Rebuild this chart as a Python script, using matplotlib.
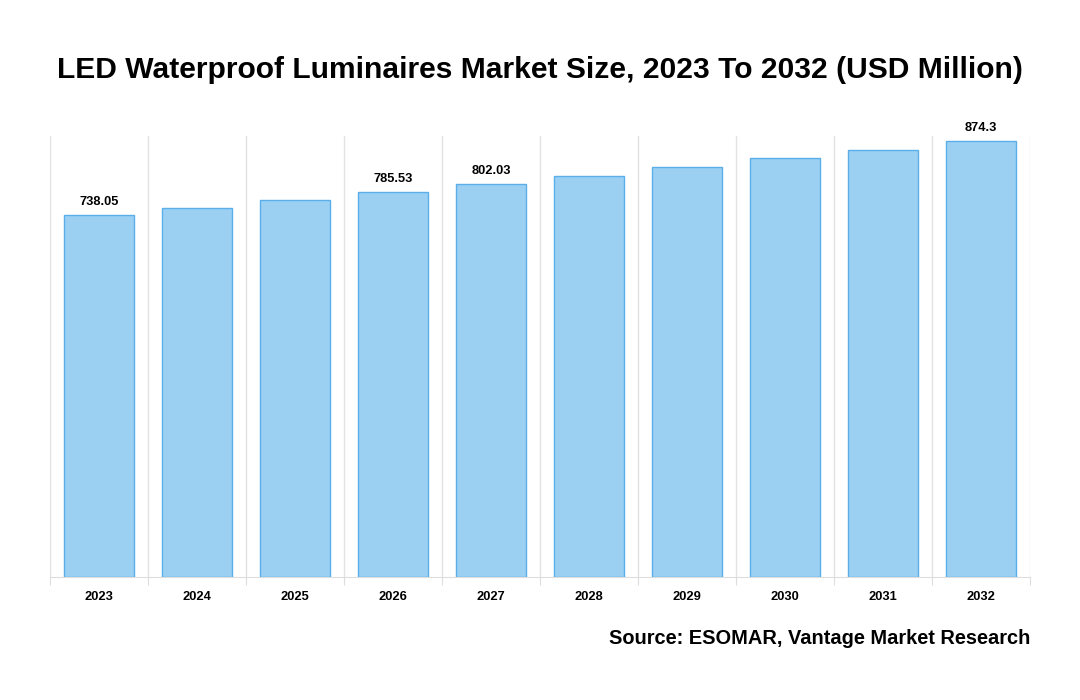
import matplotlib.pyplot as plt

plt.rcParams['font.family'] = ['Liberation Sans', 'DejaVu Sans']

# data
years = ["2023", "2024", "2025", "2026", "2027", "2028", "2029", "2030", "2031", "2032"]
values = [738.05, 752.9, 769.2, 785.53, 802.03, 818.2, 835.9, 853.4, 870.6, 889.0]
bar_labels = ["738.05", "", "", "785.53", "802.03", "", "", "", "", "874.3"]

fig = plt.figure(figsize=(10.8, 7), dpi=100)
ax = fig.add_axes([50 / 1080, 123 / 700, 980 / 1080, 441 / 700])

x = range(len(years))
bars = ax.bar(x, values, width=0.72, color="#9BD0F3", edgecolor="#5AAEE9", linewidth=1, zorder=3)

for b, lab in zip(bars, bar_labels):
    if lab:
        ax.annotate(lab, (b.get_x() + b.get_width() / 2, b.get_height()),
                    xytext=(0, 5), textcoords="offset points",
                    ha="center", va="bottom", fontsize=9.3, fontweight="bold")

ax.set_xlim(-0.5, len(years) - 0.5)
ax.set_ylim(0, 899)

# gridlines at category borders
ax.set_xticks([i - 0.5 for i in range(len(years) + 1)], minor=False)
ax.set_xticklabels([])
ax.set_xticks(list(x), minor=True)
ax.set_xticklabels(years, minor=True, fontsize=9.3, fontweight="bold")
ax.tick_params(axis="x", which="major", length=6, color="#DDDDDD")
ax.tick_params(axis="x", which="minor", length=0, pad=10)
ax.grid(axis="x", which="major", color="#E3E3E3", linewidth=1, zorder=0)
ax.set_yticks([])

for s in ["top", "left", "right"]:
    ax.spines[s].set_visible(False)
ax.spines["bottom"].set_color("#DDDDDD")

fig.text(0.5, 1 - 70 / 700, "LED Waterproof Luminaires Market Size, 2023 To 2032 (USD Million)",
         ha="center", va="center", fontsize=21.6, fontweight="bold")
fig.text(1030 / 1080, 1 - 639 / 700, "Source: ESOMAR, Vantage Market Research",
         ha="right", va="center", fontsize=14.4, fontweight="bold")

fig.savefig("out.png", dpi=100)
